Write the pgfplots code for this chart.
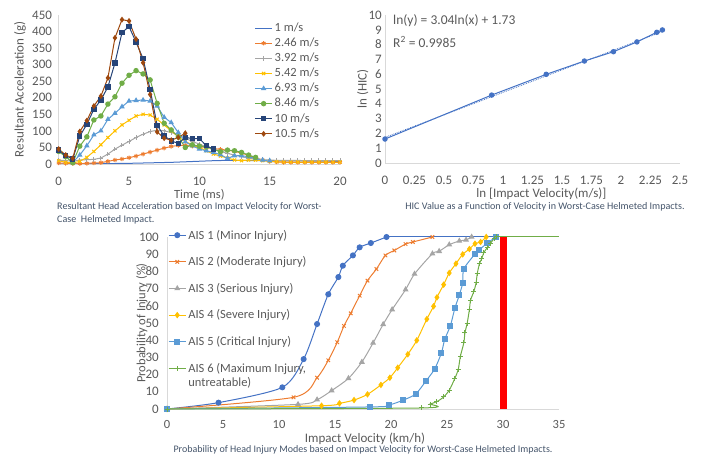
\documentclass[border=0pt]{standalone}
\usepackage{fontspec}
\setmainfont{Carlito}
\usepackage{pgfplots}
\pgfplotsset{compat=1.18}

\definecolor{txt}{HTML}{595959}
\definecolor{cap}{HTML}{44546A}
\definecolor{axgray}{HTML}{D9D9D9}
\definecolor{cA}{HTML}{4472C4}
\definecolor{cB}{HTML}{ED7D31}
\definecolor{cC}{HTML}{A5A5A5}
\definecolor{cD}{HTML}{FFC000}
\definecolor{cE}{HTML}{5B9BD5}
\definecolor{cF}{HTML}{70AD47}
\definecolor{cG}{HTML}{264478}
\definecolor{cH}{HTML}{9E480E}

\pgfplotsset{
  xl/.style={
    scale only axis, anchor=south west,
    axis x line*=bottom, axis y line*=left,
    axis line style={draw=axgray, line width=0.8pt, -},
    major tick length=0pt,
    tick label style={font=\fontsize{13}{15}\selectfont, text=txt, inner sep=1pt},
    xticklabel style={yshift=-11.5pt},
    label style={font=\fontsize{13}{15}\selectfont, text=txt, inner sep=1pt},
    /pgf/number format/assume math mode=true,
    legend cell align=left,
  },
  ser/.style={color=#1, line width=1pt, mark options={solid, fill=#1}},
}

\begin{document}
\begin{tikzpicture}[x=1pt,y=1pt]
\path[use as bounding box] (0,0) rectangle (701,455);

% ---------- top left: acceleration traces ----------
\begin{axis}[xl,
  at={(58.7pt,291pt)}, width=281.3pt, height=149pt,
  xmin=0, xmax=20, ymin=0, ymax=450,
  xtick={0,5,10,15,20}, ytick={0,50,...,450},
  yticklabel style={xshift=-5.5pt},
  xlabel={Time (ms)}, ylabel={Resultant Acceleration (g)},
  xlabel style={at={(axis description cs:0.5,-0.205)}, anchor=center, font=\fontsize{12.5}{13}\selectfont},
  ylabel style={at={(axis description cs:-0.1376,0.5)}, anchor=center},
  mark size=2.2pt,
  legend style={at={(axis description cs:0.685,0.975)}, anchor=north west,
    draw=none, fill=none, font=\fontsize{12.5}{14}\selectfont, text=txt,
    row sep=0.6pt, nodes={inner ysep=1pt, text height=9.5pt, text depth=3pt}},
]
\addplot[ser=cA, no marks] coordinates {
(0,0) (3,1) (5,2) (8,5) (11,10) (12,11) (15,10) (20,8)};
\addlegendentry{1 m/s}
\addplot[ser=cB, mark=asterisk] coordinates {
(0,3) (0.5,2) (1,1) (1.5,1) (2,2) (2.5,3) (3,4) (3.5,8) (4,12) (4.5,15)
(5,19) (5.5,24) (6,30) (6.5,36) (7,42) (7.5,48) (8,53) (8.5,56) (9,56)
(9.5,54) (10,52) (10.5,50) (11,47) (11.5,44) (12,42) (12.5,38) (13,33)
(13.5,26) (14,18) (14.5,12) (15,8) (15.5,6) (16,5) (16.5,5) (17,5) (17.5,5)
(18,5) (18.5,5) (19,5) (19.5,5) (20,5)};
\addlegendentry{2.46 m/s}
\addplot[ser=cC, mark=+] coordinates {
(0,12) (0.5,10) (1,8) (1.5,12) (2,13) (2.5,14) (3,18) (3.5,30) (4,45)
(4.5,57) (5,68) (5.5,80) (6,90) (6.5,98) (7,102) (7.5,100) (8,95) (8.5,88)
(9,78) (9.5,68) (10,60) (10.5,52) (11,45) (11.5,38) (12,32) (12.5,27)
(13,22) (13.5,18) (14,15) (14.5,13) (15,12) (15.5,11) (16,11) (16.5,11)
(17,11) (17.5,10) (18,10) (18.5,10) (19,10) (19.5,10) (20,10)};
\addlegendentry{3.92 m/s}
\addplot[ser=cD, mark=x] coordinates {
(0,10) (0.5,5) (1,3) (1.5,8) (2,20) (2.5,38) (3,58) (3.5,80) (4,100)
(4.5,118) (5,132) (5.5,145) (6,150) (6.5,148) (7,135) (7.5,118) (8,100)
(8.5,82) (9,68) (9.5,58) (10,50) (10.5,40) (11,30) (11.5,24) (12,18)
(12.5,12) (13,10) (13.5,12) (14,12) (14.5,10) (15,8) (15.5,7) (16,6)
(16.5,6) (17,6) (17.5,6) (18,6) (18.5,6) (19,6) (19.5,6) (20,6)};
\addlegendentry{5.42 m/s}
\addplot[ser=cE, mark=triangle*] coordinates {
(0,40) (0.5,22) (1,5) (1.5,27) (2,55) (2.5,88) (3,100) (3.5,135) (4,153)
(4.5,173) (5,190) (5.5,192) (6,193) (6.5,190) (7,175) (7.5,141) (8,125)
(8.5,95) (9,67) (9.5,55) (10,45) (10.5,40) (11,35) (11.5,28) (12,17)
(12.5,25) (13,25) (13.5,22) (14,17) (14.5,12) (15,10)};
\addlegendentry{6.93 m/s}
\addplot[ser=cF, mark=*] coordinates {
(0,38) (0.5,22) (1,4) (1.5,54) (2,82) (2.5,133) (3,145) (3.5,181) (4,203)
(4.5,244) (5,268) (5.5,282) (6,272) (6.5,254) (7,183) (7.5,123) (8,103)
(8.5,82) (9,50) (9.5,58) (10,54) (10.5,52) (11,45) (11.5,37) (12,42)
(12.5,40) (13,35) (13.5,27) (14,20)};
\addlegendentry{8.46 m/s}
\addplot[ser=cG, mark=square*] coordinates {
(0,42) (0.5,25) (1,15) (1.5,84) (2,120) (2.5,165) (3,193) (3.5,233)
(4,305) (4.5,397) (5,415) (5.5,368) (6,318) (6.5,225) (7,117) (7.5,85)
(8,70) (8.5,62) (9,80) (9.5,77) (10,77) (10.5,55) (11,45)};
\addlegendentry{10 m/s}
\addplot[ser=cH, mark=diamond*] coordinates {
(0,45) (0.5,27) (1,17) (1.5,98) (2,131) (2.5,175) (3,205) (3.5,260)
(4,381) (4.5,436) (5,432) (5.5,377) (6,306) (6.5,210) (7,97) (7.5,78)
(8,72) (8.5,80) (9,93)};
\addlegendentry{10.5 m/s}
\end{axis}

% ---------- top right: ln(HIC) vs ln(velocity) ----------
\begin{axis}[xl,
  at={(385pt,292pt)}, width=295pt, height=148pt,
  xmin=0, xmax=2.5, ymin=0, ymax=10,
  xtick={0,0.25,...,2.5},
  xticklabels={0,0.25,0.5,0.75,1,1.25,1.5,1.75,2,2.25,2.5},
  ytick={0,1,...,10},
  yticklabel style={xshift=-2pt},
  xlabel={ln [Impact Velocity(m/s)]}, ylabel={ln (HIC)},
  xlabel style={at={(axis description cs:0.53,-0.205)}, anchor=center},
  ylabel style={at={(axis description cs:-0.075,0.5)}, anchor=center},
]
\addplot[color=cA, line width=0.8pt, densely dotted] coordinates {(0,1.73) (2.351,8.88)};
\addplot[ser=cA, mark=*, mark size=2.2pt] coordinates {
(0,1.62) (0.904,4.59) (1.366,5.99) (1.69,6.89) (1.936,7.52) (2.135,8.18)
(2.303,8.83) (2.351,8.99)};
\end{axis}
\node[anchor=west, inner sep=0pt, font=\fontsize{13.5}{15}\selectfont, text=txt] at (393,434) {ln(y) = 3.04ln(x) + 1.73};
\node[anchor=west, inner sep=0pt, font=\fontsize{13.5}{15}\selectfont, text=txt] at (393,413) {R\textsuperscript{2} = 0.9985};

% ---------- bottom: injury probability ----------
\begin{axis}[xl,
  at={(167pt,46pt)}, width=392pt, height=172pt,
  xmin=0, xmax=35, ymin=0, ymax=100,
  xtick={0,5,...,35}, ytick={0,10,...,100},
  xticklabel style={font=\fontsize{12.5}{14}\selectfont, yshift=1pt},
  yticklabel style={xshift=-7pt},
  xlabel={Impact Velocity (km/h)}, ylabel={Probability of Injury (\%)},
  xlabel style={at={(axis description cs:0.505,-0.174)}, anchor=center},
  ylabel style={at={(axis description cs:-0.064,0.5)}, anchor=center, font=\fontsize{12.5}{14}\selectfont},
  mark size=2.5pt, clip=false,
  legend style={at={(axis description cs:-0.005,1.06)}, anchor=north west,
    draw=none, fill=none, font=\fontsize{12.5}{14}\selectfont, text=txt,
    row sep=14pt, nodes={inner ysep=1pt}},
]
\addplot[ycomb, color=red, line width=6.5pt, forget plot] coordinates {(30.05,100)};
\addplot[ser=cA, mark=*, smooth, tension=0.45] coordinates {
(0,0) (4.6,3.7) (10.3,12.6) (12.2,29) (13.4,49.4) (14.4,66.7) (15.3,76.7)
(15.7,83.3) (16.6,89.3) (17.2,94) (18.2,96.5) (19.6,100)};
\addlegendentry{AIS 1 (Minor Injury)}
\addplot[ser=cB, mark=x, smooth, tension=0.45] coordinates {
(0,0) (11.3,6.8) (13.4,18.2) (14.4,28.3) (15.2,38.8) (15.8,48.3) (16.4,55.6)
(17.2,65.9) (17.9,74.6) (18.7,81.4) (19.5,89.3) (20.3,92.2) (21.3,95.9)
(21.95,97.1) (23.7,100)};
\addlegendentry{AIS 2 (Moderate Injury)}
\addplot[ser=cC, mark=triangle*, smooth, tension=0.45] coordinates {
(0,0) (11.7,2.7) (13.4,5.4) (14.7,10.7) (16.2,17.8) (17.4,27.3) (18.4,38.4)
(19.3,49.2) (20.1,57.8) (21.3,69.4) (22.1,78.5) (23.7,90.3) (24.3,91.7)
(25.2,95.5) (26.1,97.7) (26.7,98.3) (27.2,100)};
\addlegendentry{AIS 3 (Serious Injury)}
\addplot[ser=cD, mark=diamond*, smooth, tension=0.45] coordinates {
(0,0) (13.8,1.9) (15.4,3.3) (16.7,5.2) (17.9,8.5) (19.1,14) (19.9,18.2)
(20.6,24) (21.5,31.8) (22.3,39.9) (23.2,52.3) (23.8,59.7) (24.1,64.9)
(24.7,72.3) (25.2,79.1) (25.8,84.5) (26.4,89.9) (27,93) (27.5,96.1)
(28,97.1) (28.5,100)};
\addlegendentry{AIS 4 (Severe Injury)}
\addplot[ser=cE, mark=square*, smooth, tension=0.45] coordinates {
(0,0) (18.1,1.2) (19.8,2.3) (21.1,5.2) (22.2,8.7) (23.1,16.1) (23.9,23.3)
(24.5,32.6) (24.8,40.5) (25.3,48.4) (25.7,58.5) (26.1,66.3) (26.4,73.3)
(26.5,81.4) (27.5,90.1) (27.9,92.6) (28.6,96.5) (29.4,100)};
\addlegendentry{AIS 5 (Critical Injury)}
\addplot[ser=cF, mark=+, smooth, tension=0.45] coordinates {
(0,0) (22.7,0.6) (23.5,2.9) (24.1,4.3) (24.7,7) (25.2,10.9) (25.7,17.8)
(26,22.9) (26.2,30.8) (26.5,38.4) (26.6,44.2) (26.8,49.8) (27,57.8)
(27.1,63.2) (27.4,68.4) (27.6,73.4) (27.7,78.7) (27.9,84.5) (28.1,87.4)
(28.3,91.1) (28.6,93.8) (28.9,96.5) (29.2,99) (29.4,100)};
\addlegendentry{\begin{tabular}[t]{@{}l@{}}AIS 6 (Maximum Injury,\\untreatable)\end{tabular}}
\addplot[ser=cA, forget plot] coordinates {(19.6,100) (35,100)};
\addplot[ser=cF, forget plot] coordinates {(29.4,100) (35,100)};
\end{axis}

% ---------- captions ----------
\node[anchor=west, align=left, inner sep=1pt, font=\fontsize{10.1}{12.5}\selectfont, text=cap] at (56,241.5)
  {Resultant Head Acceleration based on Impact Velocity for Worst-\\Case\ \ Helmeted Impact.};
\node[inner sep=1pt, font=\fontsize{10.1}{12}\selectfont, text=cap] at (545,248)
  {HIC Value as a Function of Velocity in Worst-Case Helmeted Impacts.};
\node[inner sep=1pt, font=\fontsize{10}{12}\selectfont, text=cap] at (363,5.2)
  {Probability of Head Injury Modes based on Impact Velocity for Worst-Case Helmeted Impacts.};
\end{tikzpicture}
\end{document}
